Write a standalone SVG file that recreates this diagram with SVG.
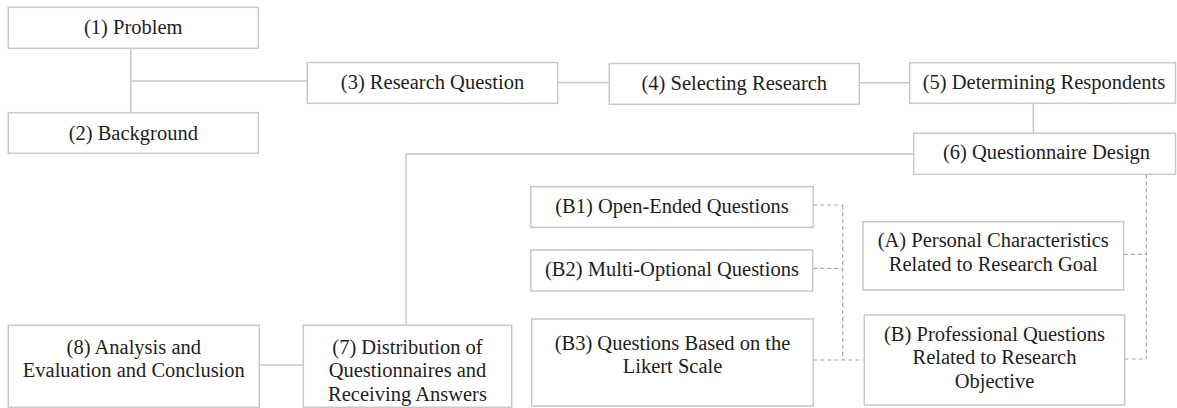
<svg xmlns="http://www.w3.org/2000/svg" width="1177" height="408" viewBox="0 0 1177 408">
<style>
.box{fill:#ffffff;stroke:#c9c9c9;stroke-width:1.5}
.t{font-family:'Liberation Serif','Times New Roman',Tinos,'DejaVu Serif',serif;font-size:20.5px;fill:#1e1e1e;text-anchor:middle}
.ln{fill:none;stroke:#c9c9c9;stroke-width:1.5}
.ds{fill:none;stroke:#a8a8a8;stroke-width:1.2;stroke-dasharray:4 3}
</style>
<rect width="1177" height="408" fill="#ffffff"/>
<g id="connectors">
<path class="ln" d="M130.7,48.3 V112.7 M130.7,81 H307.3"/>
<path class="ln" d="M557.7,82.5 H609.3"/>
<path class="ln" d="M859.3,82.7 H909.7"/>
<path class="ln" d="M1033.3,103.3 V133.3"/>
<path class="ln" d="M913.7,154 H406 V325.5"/>
<path class="ln" d="M259.3,365 H303.3"/>
<path class="ds" d="M813.3,205 H842.7 M813.3,268.3 H842.7 M842.7,205 V360 M813.3,360 H863.3"/>
<path class="ds" d="M1146.3,174.3 V359 M1123.7,254.3 H1146.3 M1124.7,359 H1146.3"/>
</g>
<g font-family="'Liberation Serif','Times New Roman',serif">
<g id="n1"><rect class="box" x="8.3" y="7.3" width="250" height="41"/><text class="t" x="133.3" y="33.5">(1) Problem</text></g>
<g id="n2"><rect class="box" x="8.3" y="112.7" width="250" height="40.6"/><text class="t" x="133.3" y="139.5">(2) Background</text></g>
<g id="n3"><rect class="box" x="307.3" y="62.5" width="250.4" height="40.8"/><text class="t" x="432.5" y="89">(3) Research Question</text></g>
<g id="n4"><rect class="box" x="609.3" y="63.5" width="250" height="40.8"/><text class="t" x="734.3" y="90">(4) Selecting Research</text></g>
<g id="n5"><rect class="box" x="909.7" y="62.7" width="265.8" height="40.6"/><text class="t" x="1044" y="89.3">(5) Determining Respondents</text></g>
<g id="n6"><rect class="box" x="913.7" y="133.3" width="261.8" height="41"/><text class="t" x="1046.5" y="159.3">(6) Questionnaire Design</text></g>
<g id="nB1"><rect class="box" x="530.7" y="186.7" width="282.6" height="40.6"/><text class="t" x="672" y="212.7">(B1) Open-Ended Questions</text></g>
<g id="nB2"><rect class="box" x="530.7" y="250" width="282" height="41"/><text class="t" x="672" y="276">(B2) Multi-Optional Questions</text></g>
<g id="nB3"><rect class="box" x="531.7" y="319" width="281.6" height="87"/><text class="t" x="672.5" y="350">(B3) Questions Based on the</text><text class="t" x="672.5" y="373.3">Likert Scale</text></g>
<g id="nA"><rect class="box" x="863" y="221.7" width="260.7" height="68.3"/><text class="t" x="993.3" y="247.3">(A) Personal Characteristics</text><text class="t" x="993.3" y="270.7">Related to Research Goal</text></g>
<g id="nB"><rect class="box" x="864.3" y="315" width="260.4" height="90"/><text class="t" x="994.5" y="340.7">(B) Professional Questions</text><text class="t" x="994.5" y="364.3">Related to Research</text><text class="t" x="994.5" y="388">Objective</text></g>
<g id="n7"><rect class="box" x="303.3" y="325.3" width="208.4" height="82"/><text class="t" x="407.5" y="354.3">(7) Distribution of</text><text class="t" x="407.5" y="377.3">Questionnaires and</text><text class="t" x="407.5" y="401">Receiving Answers</text></g>
<g id="n8"><rect class="box" x="8.3" y="325.3" width="251" height="82"/><text class="t" x="133.8" y="354.3">(8) Analysis and</text><text class="t" x="133.8" y="377.3">Evaluation and Conclusion</text></g>
</g>
</svg>
